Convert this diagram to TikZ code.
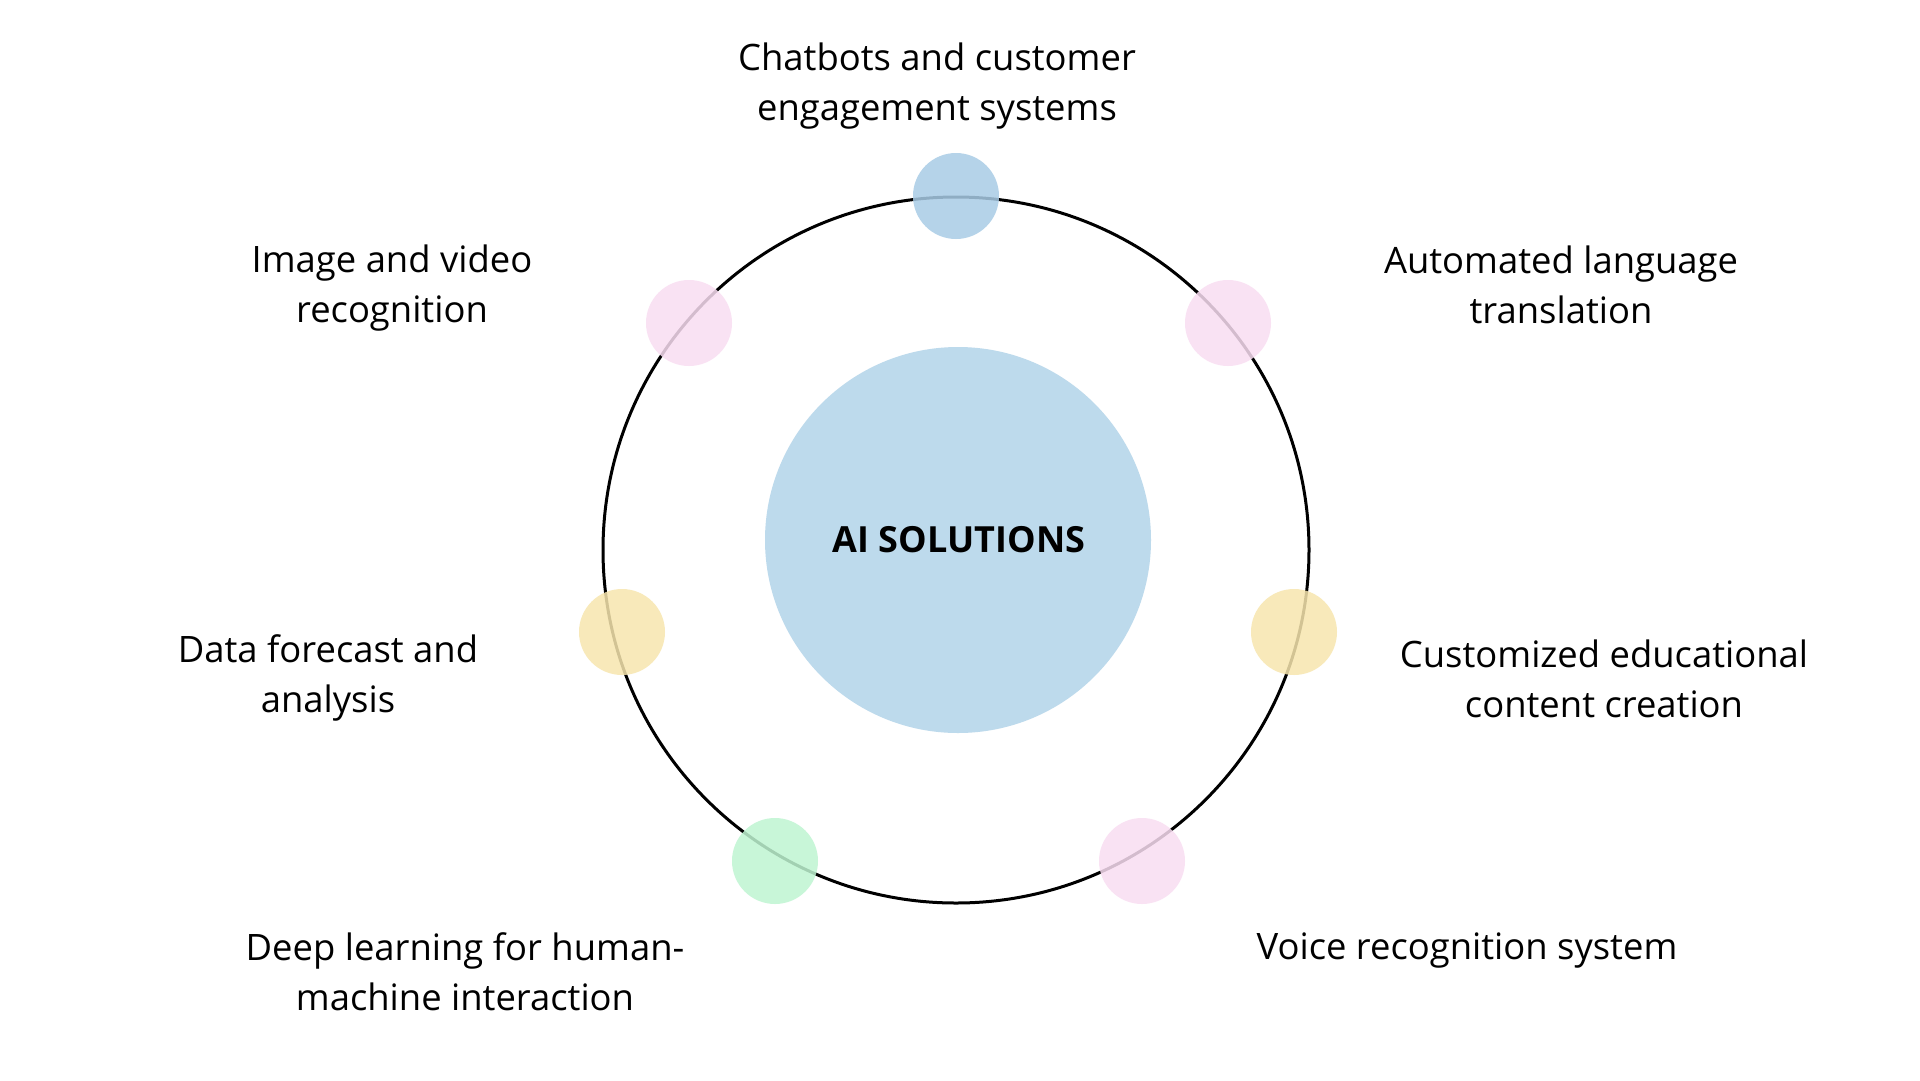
\documentclass[tikz,border=0pt]{standalone}
\usepackage{fontspec}
\setmainfont{Open Sans}
\definecolor{cblue}{HTML}{A9CCE6}
\definecolor{cbig}{HTML}{BDDAEC}
\definecolor{cpink}{HTML}{F9DDF2}
\definecolor{cyel}{HTML}{F7E6AE}
\definecolor{cgreen}{HTML}{BFF5D2}
\begin{document}
\begin{tikzpicture}[x=1pt,y=-1pt,
  dot/.style={circle,minimum size=86pt,inner sep=0pt,fill opacity=0.85},
  lbl/.style={align=center,font=\fontsize{36.4}{50}\selectfont,text=black}]
\useasboundingbox (0,0) rectangle (1920,1080);
\fill[white] (0,0) rectangle (1920,1080);
\node[circle,fill=cbig,minimum size=386pt,inner sep=0pt] (core) at (958,540) {};
\node[font=\fontsize{36}{40}\selectfont\bfseries] (coretext) at (959,540) {AI SOLUTIONS};
\node[circle,draw=black,line width=3pt,minimum size=706pt,inner sep=0pt] (ring) at (956,550) {};
\node[dot,fill=cblue] (d1) at (956,196) {};
\node[dot,fill=cpink] (d2) at (689,323) {};
\node[dot,fill=cpink] (d3) at (1228,323) {};
\node[dot,fill=cyel] (d4) at (622,632) {};
\node[dot,fill=cyel] (d5) at (1294,632) {};
\node[dot,fill=cgreen] (d6) at (775,861) {};
\node[dot,fill=cpink] (d7) at (1142,861) {};
\node[lbl] (t1) at (937,86) {Chatbots and customer\\engagement systems};
\node[lbl] (t2) at (392,288) {Image and video\\recognition};
\node[lbl] (t3) at (1561,284.5) {Automated language\\translation};
\node[lbl] (t4) at (328,678) {Data forecast and\\analysis};
\node[lbl] (t5) at (1604,678.5) {Customized educational\\content creation};
\node[lbl] (t6) at (465,971.5) {Deep learning for human-\\machine interaction};
\node[lbl] (t7) at (1467,950) {Voice recognition system};
\end{tikzpicture}
\end{document}
